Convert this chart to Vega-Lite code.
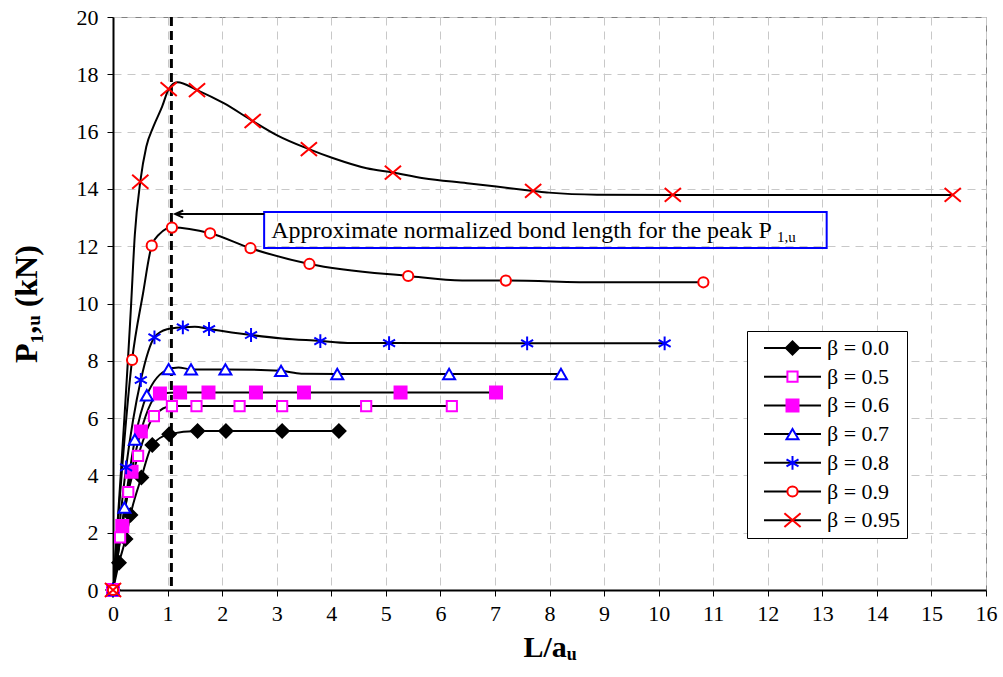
{
  "$schema": "https://vega.github.io/schema/vega-lite/v6.json",
  "width": 873,
  "height": 573,
  "autosize": {"type": "none"},
  "padding": {"left": 113, "top": 17, "right": 17, "bottom": 87},
  "background": "white",
  "config": {
    "font": "Liberation Serif",
    "view": {"stroke": "#808080", "strokeWidth": 1},
    "axis": {
      "grid": true,
      "gridColor": "#c8c8c8",
      "gridDash": [8, 6],
      "gridWidth": 1,
      "domainColor": "#000000",
      "domainWidth": 2,
      "tickColor": "#000000",
      "tickSize": 6,
      "tickWidth": 1,
      "labelFont": "Liberation Serif",
      "labelFontSize": 22,
      "labelColor": "#000000",
      "labelFlush": false,
      "labelOverlap": false,
      "titleFont": "Liberation Serif",
      "titleFontSize": 30,
      "titleFontWeight": "bold",
      "titleColor": "#000000"
    }
  },
  "datasets": {
    "curves": [
      {"s": "β = 0.0", "x": 0, "y": 0, "m": 1},
      {"s": "β = 0.0", "x": 0.11, "y": 0.95, "m": 1},
      {"s": "β = 0.0", "x": 0.23, "y": 1.78, "m": 1},
      {"s": "β = 0.0", "x": 0.32, "y": 2.62, "m": 1},
      {"s": "β = 0.0", "x": 0.52, "y": 3.93, "m": 1},
      {"s": "β = 0.0", "x": 0.72, "y": 5.06, "m": 1},
      {"s": "β = 0.0", "x": 1.03, "y": 5.44, "m": 1},
      {"s": "β = 0.0", "x": 1.55, "y": 5.55, "m": 1},
      {"s": "β = 0.0", "x": 2.07, "y": 5.55, "m": 1},
      {"s": "β = 0.0", "x": 3.10, "y": 5.55, "m": 1},
      {"s": "β = 0.0", "x": 4.14, "y": 5.55, "m": 1},

      {"s": "β = 0.5", "x": 0, "y": 0, "m": 1},
      {"s": "β = 0.5", "x": 0.13, "y": 1.84, "m": 1},
      {"s": "β = 0.5", "x": 0.28, "y": 3.42, "m": 1},
      {"s": "β = 0.5", "x": 0.46, "y": 4.68, "m": 1},
      {"s": "β = 0.5", "x": 0.75, "y": 6.07, "m": 1},
      {"s": "β = 0.5", "x": 1.08, "y": 6.42, "m": 1},
      {"s": "β = 0.5", "x": 1.53, "y": 6.42, "m": 1},
      {"s": "β = 0.5", "x": 2.32, "y": 6.42, "m": 1},
      {"s": "β = 0.5", "x": 3.10, "y": 6.42, "m": 1},
      {"s": "β = 0.5", "x": 4.64, "y": 6.42, "m": 1},
      {"s": "β = 0.5", "x": 6.21, "y": 6.42, "m": 1},

      {"s": "β = 0.6", "x": 0, "y": 0, "m": 1},
      {"s": "β = 0.6", "x": 0.17, "y": 2.23, "m": 1},
      {"s": "β = 0.6", "x": 0.34, "y": 4.13, "m": 1},
      {"s": "β = 0.6", "x": 0.51, "y": 5.53, "m": 1},
      {"s": "β = 0.6", "x": 0.86, "y": 6.86, "m": 1},
      {"s": "β = 0.6", "x": 1.23, "y": 6.89, "m": 1},
      {"s": "β = 0.6", "x": 1.75, "y": 6.89, "m": 1},
      {"s": "β = 0.6", "x": 2.62, "y": 6.89, "m": 1},
      {"s": "β = 0.6", "x": 3.50, "y": 6.89, "m": 1},
      {"s": "β = 0.6", "x": 5.27, "y": 6.89, "m": 1},
      {"s": "β = 0.6", "x": 7.02, "y": 6.89, "m": 1},

      {"s": "β = 0.7", "x": 0, "y": 0, "m": 1},
      {"s": "β = 0.7", "x": 0.21, "y": 2.88, "m": 1},
      {"s": "β = 0.7", "x": 0.40, "y": 5.25, "m": 1},
      {"s": "β = 0.7", "x": 0.62, "y": 6.80, "m": 1},
      {"s": "β = 0.7", "x": 1.02, "y": 7.71, "m": 1},
      {"s": "β = 0.7", "x": 1.20, "y": 7.77, "m": 0},
      {"s": "β = 0.7", "x": 1.43, "y": 7.70, "m": 1},
      {"s": "β = 0.7", "x": 2.06, "y": 7.70, "m": 1},
      {"s": "β = 0.7", "x": 3.08, "y": 7.65, "m": 1},
      {"s": "β = 0.7", "x": 3.45, "y": 7.55, "m": 0},
      {"s": "β = 0.7", "x": 4.11, "y": 7.54, "m": 1},
      {"s": "β = 0.7", "x": 6.16, "y": 7.54, "m": 1},
      {"s": "β = 0.7", "x": 8.21, "y": 7.54, "m": 1},

      {"s": "β = 0.8", "x": 0, "y": 0, "m": 1},
      {"s": "β = 0.8", "x": 0.24, "y": 4.28, "m": 1},
      {"s": "β = 0.8", "x": 0.51, "y": 7.33, "m": 1},
      {"s": "β = 0.8", "x": 0.76, "y": 8.82, "m": 1},
      {"s": "β = 0.8", "x": 0.99, "y": 9.10, "m": 0},
      {"s": "β = 0.8", "x": 1.28, "y": 9.17, "m": 1},
      {"s": "β = 0.8", "x": 1.50, "y": 9.19, "m": 0},
      {"s": "β = 0.8", "x": 1.76, "y": 9.11, "m": 1},
      {"s": "β = 0.8", "x": 2.53, "y": 8.90, "m": 1},
      {"s": "β = 0.8", "x": 3.10, "y": 8.78, "m": 0},
      {"s": "β = 0.8", "x": 3.80, "y": 8.69, "m": 1},
      {"s": "β = 0.8", "x": 4.30, "y": 8.62, "m": 0},
      {"s": "β = 0.8", "x": 5.06, "y": 8.62, "m": 1},
      {"s": "β = 0.8", "x": 7.59, "y": 8.61, "m": 1},
      {"s": "β = 0.8", "x": 10.11, "y": 8.61, "m": 1},

      {"s": "β = 0.9", "x": 0, "y": 0, "m": 1},
      {"s": "β = 0.9", "x": 0.35, "y": 8.03, "m": 1},
      {"s": "β = 0.9", "x": 0.55, "y": 10.35, "m": 0},
      {"s": "β = 0.9", "x": 0.71, "y": 12.02, "m": 1},
      {"s": "β = 0.9", "x": 0.85, "y": 12.42, "m": 0},
      {"s": "β = 0.9", "x": 1.08, "y": 12.65, "m": 1},
      {"s": "β = 0.9", "x": 1.78, "y": 12.45, "m": 1},
      {"s": "β = 0.9", "x": 2.52, "y": 11.93, "m": 1},
      {"s": "β = 0.9", "x": 3.60, "y": 11.38, "m": 1},
      {"s": "β = 0.9", "x": 5.41, "y": 10.96, "m": 1},
      {"s": "β = 0.9", "x": 6.40, "y": 10.80, "m": 0},
      {"s": "β = 0.9", "x": 7.20, "y": 10.80, "m": 1},
      {"s": "β = 0.9", "x": 8.90, "y": 10.74, "m": 0},
      {"s": "β = 0.9", "x": 10.82, "y": 10.74, "m": 1},

      {"s": "β = 0.95", "x": 0, "y": 0, "m": 1},
      {"s": "β = 0.95", "x": 0.33, "y": 9.9, "m": 0},
      {"s": "β = 0.95", "x": 0.40, "y": 12.4, "m": 0},
      {"s": "β = 0.95", "x": 0.50, "y": 14.25, "m": 1},
      {"s": "β = 0.95", "x": 0.61, "y": 15.47, "m": 0},
      {"s": "β = 0.95", "x": 0.74, "y": 16.17, "m": 0},
      {"s": "β = 0.95", "x": 0.90, "y": 16.87, "m": 0},
      {"s": "β = 0.95", "x": 1.02, "y": 17.48, "m": 1},
      {"s": "β = 0.95", "x": 1.18, "y": 17.72, "m": 0},
      {"s": "β = 0.95", "x": 1.54, "y": 17.45, "m": 1},
      {"s": "β = 0.95", "x": 2.03, "y": 16.99, "m": 0},
      {"s": "β = 0.95", "x": 2.56, "y": 16.37, "m": 1},
      {"s": "β = 0.95", "x": 3.00, "y": 15.88, "m": 0},
      {"s": "β = 0.95", "x": 3.59, "y": 15.39, "m": 1},
      {"s": "β = 0.95", "x": 4.04, "y": 15.07, "m": 0},
      {"s": "β = 0.95", "x": 4.65, "y": 14.72, "m": 0},
      {"s": "β = 0.95", "x": 5.13, "y": 14.57, "m": 1},
      {"s": "β = 0.95", "x": 5.69, "y": 14.37, "m": 0},
      {"s": "β = 0.95", "x": 6.49, "y": 14.20, "m": 0},
      {"s": "β = 0.95", "x": 7.70, "y": 13.93, "m": 1},
      {"s": "β = 0.95", "x": 7.99, "y": 13.87, "m": 0},
      {"s": "β = 0.95", "x": 8.87, "y": 13.80, "m": 0},
      {"s": "β = 0.95", "x": 10.26, "y": 13.79, "m": 1},
      {"s": "β = 0.95", "x": 15.39, "y": 13.79, "m": 1}
    ],
    "guide": [{"x": 1.07}],
    "box": [{"x": 2.77, "x2": 13.08, "y": 13.19, "y2": 11.94}],
    "arrow": [{"x": 1.14, "x2": 2.77, "y": 13.12}],
    "note": [{"x": 2.9, "y": 12.28, "t": "Approximate normalized bond length for the peak P"}],
    "sub": [{"x": 12.17, "y": 12.13, "t": "1,u"}]
  },
  "layer": [
    {
      "data": {"name": "curves"},
      "mark": {"type": "line", "interpolate": "monotone", "strokeWidth": 2, "clip": true},
      "encoding": {
        "x": {
          "field": "x", "type": "quantitative",
          "scale": {"domain": [0, 16], "nice": false},
          "axis": {"values": [0,1,2,3,4,5,6,7,8,9,10,11,12,13,14,15,16], "title": "L/aᵤ", "labelPadding": 7, "titlePadding": 8}
        },
        "y": {
          "field": "y", "type": "quantitative",
          "scale": {"domain": [0, 20], "nice": false},
          "axis": {"values": [0,2,4,6,8,10,12,14,16,18,20], "title": "P₁,ᵤ (kN)", "titleFontSize": 32, "labelPadding": 9, "titlePadding": 33}
        },
        "color": {
          "field": "s", "type": "nominal",
          "scale": {"range": ["#000000"]},
          "legend": {
            "title": null, "orient": "none", "legendX": 634, "legendY": 314,
            "symbolType": "stroke", "symbolSize": 3249, "symbolStrokeWidth": 2,
            "symbolOffset": 10, "labelOffset": 5, "padding": 6,
            "labelFont": "Liberation Serif", "labelFontSize": 22, "labelColor": "#000000", "labelLimit": 300,
            "clipHeight": 22, "rowPadding": 6.7,
            "fillColor": "#ffffff", "strokeColor": "#000000"
          }
        }
      }
    },
    {
      "data": {"name": "guide"},
      "mark": {"type": "rule", "strokeDash": [9, 5], "strokeWidth": 3, "color": "#000000"},
      "encoding": {"x": {"field": "x", "type": "quantitative"}}
    },
    {
      "data": {"name": "box"},
      "mark": {"type": "rect", "fill": null, "fillOpacity": 0, "stroke": "#0000ff", "strokeWidth": 2},
      "encoding": {
        "x": {"field": "x", "type": "quantitative"},
        "x2": {"field": "x2"},
        "y": {"field": "y", "type": "quantitative"},
        "y2": {"field": "y2"}
      }
    },
    {
      "data": {"name": "arrow"},
      "mark": {"type": "rule", "strokeWidth": 2, "color": "#000000"},
      "encoding": {
        "x": {"field": "x", "type": "quantitative"},
        "x2": {"field": "x2"},
        "y": {"field": "y", "type": "quantitative"}
      }
    },
    {
      "data": {"name": "arrow"},
      "mark": {"type": "point", "shape": "M2,-0.9L0,0L2,0.9", "size": 64, "strokeWidth": 2, "stroke": "#000000", "fill": null, "opacity": 1},
      "encoding": {
        "x": {"field": "x", "type": "quantitative"},
        "y": {"field": "y", "type": "quantitative"}
      }
    },
    {
      "data": {"name": "note"},
      "mark": {"type": "text", "align": "left", "baseline": "alphabetic", "font": "Liberation Serif", "fontSize": 24, "color": "#000000"},
      "encoding": {
        "x": {"field": "x", "type": "quantitative"},
        "y": {"field": "y", "type": "quantitative"},
        "text": {"field": "t"}
      }
    },
    {
      "data": {"name": "sub"},
      "mark": {"type": "text", "align": "left", "baseline": "alphabetic", "font": "Liberation Serif", "fontSize": 15, "color": "#000000"},
      "encoding": {
        "x": {"field": "x", "type": "quantitative"},
        "y": {"field": "y", "type": "quantitative"},
        "text": {"field": "t"}
      }
    },
    {
      "data": {"name": "curves"},
      "transform": [{"filter": "datum.m == 1"}],
      "mark": {"type": "point", "size": 144, "strokeWidth": 2, "opacity": 1, "clip": false},
      "encoding": {
        "x": {"field": "x", "type": "quantitative"},
        "y": {"field": "y", "type": "quantitative"},
        "shape": {
          "field": "s", "type": "nominal",
          "scale": {
            "domain": ["β = 0.0", "β = 0.5", "β = 0.6", "β = 0.7", "β = 0.8", "β = 0.9", "β = 0.95"],
            "range": [
              "M-1.1,0L0,-1.1L1.1,0L0,1.1Z",
              "M-0.85,-0.85H0.85V0.85H-0.85Z",
              "square",
              "triangle-up",
              "M0,-1.15V1.15M-1,-0.58L1,0.58M-1,0.58L1,-0.58",
              "M-0.85,0A0.85,0.85,0,1,1,0.85,0A0.85,0.85,0,1,1,-0.85,0Z",
              "M-1.35,-1.15L1.35,1.15M-1.35,1.15L1.35,-1.15"
            ]
          },
          "legend": {
            "title": null, "orient": "none", "legendX": 634, "legendY": 314,
            "padding": 6, "symbolOffset": 29.5, "symbolSize": 144, "symbolStrokeWidth": 2,
            "labelFontSize": 20, "labelExpr": "''",
            "clipHeight": 22, "rowPadding": 6.7
          }
        },
        "fill": {
          "field": "s", "type": "nominal",
          "scale": {
            "domain": ["β = 0.0", "β = 0.5", "β = 0.6", "β = 0.7", "β = 0.8", "β = 0.9", "β = 0.95"],
            "range": ["#000000", "#ffffff", "#ff00ff", "#ffffff", "#ffffff", "#ffffff", "#ffffff"]
          },
          "legend": {
            "title": null, "orient": "none", "legendX": 634, "legendY": 314,
            "padding": 6, "symbolOffset": 29.5, "symbolSize": 144, "symbolStrokeWidth": 2,
            "labelFontSize": 20, "labelExpr": "''",
            "clipHeight": 22, "rowPadding": 6.7
          }
        },
        "stroke": {
          "field": "s", "type": "nominal",
          "scale": {
            "domain": ["β = 0.0", "β = 0.5", "β = 0.6", "β = 0.7", "β = 0.8", "β = 0.9", "β = 0.95"],
            "range": ["#000000", "#ff00ff", "#ff00ff", "#0000ff", "#0000ff", "#ff0000", "#ff0000"]
          },
          "legend": {
            "title": null, "orient": "none", "legendX": 634, "legendY": 314,
            "padding": 6, "symbolOffset": 29.5, "symbolSize": 144, "symbolStrokeWidth": 2,
            "labelFontSize": 20, "labelExpr": "''",
            "clipHeight": 22, "rowPadding": 6.7
          }
        }
      }
    }
  ]
}
